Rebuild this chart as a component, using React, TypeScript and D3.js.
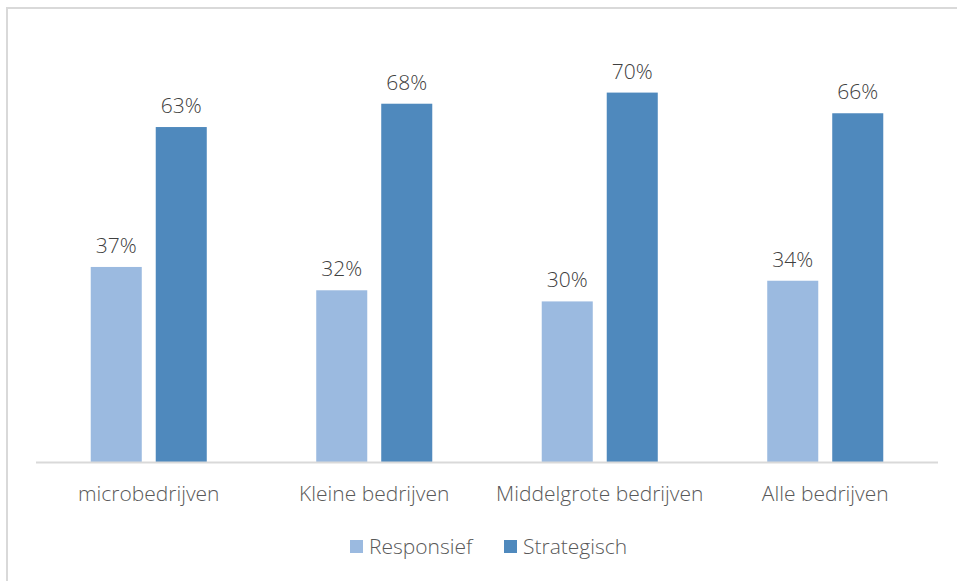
import { useEffect, useRef } from "react"
import * as d3 from "d3"

const categories = ["microbedrijven", "Kleine bedrijven", "Middelgrote bedrijven", "Alle bedrijven"]
const seriesNames = ["Responsief", "Strategisch"]
// shares in %, labels show the rounded value
const responsief = [36.8, 32.4, 30.3, 34.2]
const strategisch = [63.2, 67.6, 69.7, 65.8]
const colors = ["#9bbae0", "#4f89bd"]

export default function App() {
  const svgRef = useRef<SVGSVGElement>(null)

  useEffect(() => {
    if (!svgRef.current) return
    const svg = d3.select(svgRef.current)
    svg.selectAll("*").remove()

    const width = 957
    const height = 581
    const font = "'Open Sans', 'Noto Sans', sans-serif"

    svg.attr("width", width).attr("height", height)

    // chart frame (only top/left visible in the crop)
    svg.append("rect")
      .attr("x", 7).attr("y", 8)
      .attr("width", width + 10).attr("height", height + 10)
      .attr("fill", "white")
      .attr("stroke", "#d9d9d9")
      .attr("stroke-width", 2)

    const x0 = d3.scaleBand().domain(categories).range([36, 938])
    const x1 = d3.scaleBand().domain(seriesNames).range([0, x0.bandwidth()]).paddingInner(0.215).paddingOuter(0.842)
    const y = d3.scaleLinear().domain([0, 80]).range([462, 38])

    const series = [responsief, strategisch]

    categories.forEach((cat, i) => {
      seriesNames.forEach((name, s) => {
        const v = series[s][i]
        const bx = x0(cat)! + x1(name)!
        svg.append("rect")
          .attr("x", bx)
          .attr("y", y(v))
          .attr("width", x1.bandwidth())
          .attr("height", y(0) - y(v))
          .attr("fill", colors[s])
        svg.append("text")
          .attr("x", bx + x1.bandwidth() / 2)
          .attr("y", y(v) - 14)
          .attr("text-anchor", "middle")
          .attr("font-family", font)
          .attr("font-weight", 300)
          .attr("font-size", 21)
          .attr("fill", "#404040")
          .text(`${Math.round(v)}%`)
      })
      svg.append("text")
        .attr("x", x0(cat)! + x0.bandwidth() / 2)
        .attr("y", 501)
        .attr("text-anchor", "middle")
        .attr("font-family", font)
        .attr("font-weight", 300)
        .attr("font-size", 21)
        .attr("fill", "#595959")
        .text(cat)
    })

    // baseline
    svg.append("line")
      .attr("x1", 36).attr("x2", 938)
      .attr("y1", y(0) + 0.5).attr("y2", y(0) + 0.5)
      .attr("stroke", "#d9d9d9")
      .attr("stroke-width", 2)

    // legend
    const legendX = [350, 504]
    seriesNames.forEach((name, s) => {
      svg.append("rect")
        .attr("x", legendX[s]).attr("y", 540)
        .attr("width", 13).attr("height", 13)
        .attr("fill", colors[s])
      svg.append("text")
        .attr("x", legendX[s] + 19)
        .attr("y", 554)
        .attr("font-family", font)
        .attr("font-weight", 300)
        .attr("font-size", 21)
        .attr("fill", "#595959")
        .text(name)
    })
  }, [])

  return (
    <div style={{ position: "fixed", left: 0, top: 0 }}>
      <svg ref={svgRef}></svg>
    </div>
  )
}
